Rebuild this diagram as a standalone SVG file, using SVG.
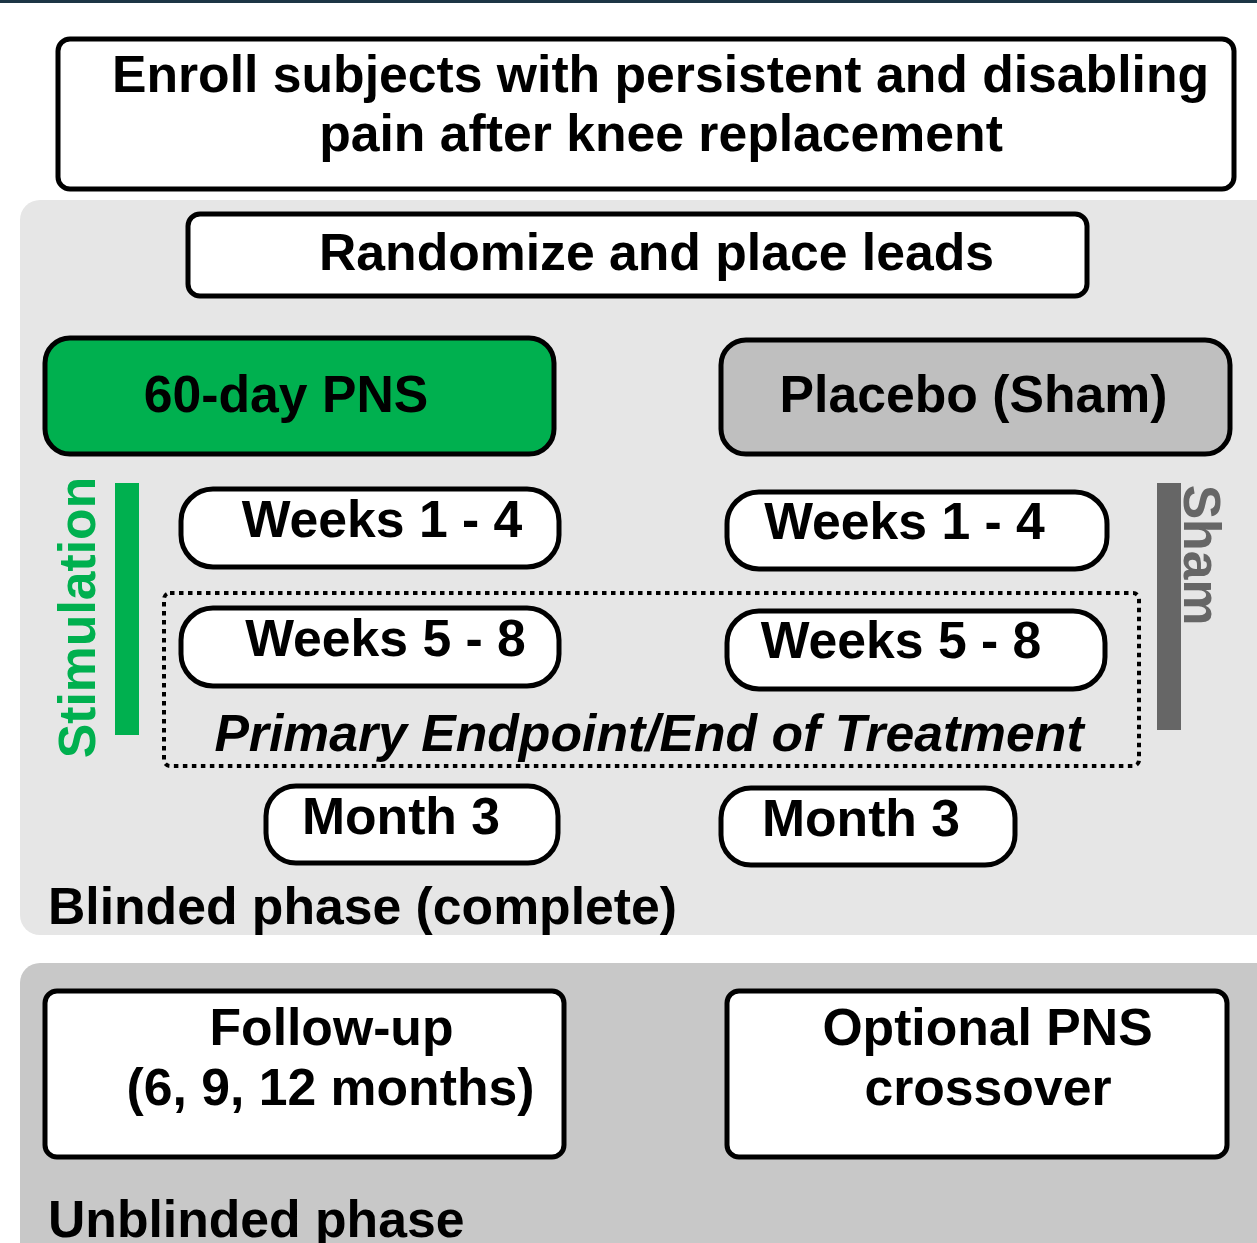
<svg xmlns="http://www.w3.org/2000/svg" width="1257" height="1243" viewBox="0 0 1257 1243">
<style>
.t{font-family:"Liberation Sans",Arial,sans-serif;font-weight:bold;fill:#000;text-anchor:middle;font-size:51.7px}
.box{fill:#fff;stroke:#000;stroke-width:5}
.pill{fill:#fff;stroke:#000;stroke-width:5}
</style>
<rect x="0" y="0" width="1257" height="1243" fill="#fff"/>
<rect x="0" y="0" width="1257" height="3" fill="#1c3545"/>
<g id="blinded-panel">
<rect x="20" y="200" width="1260" height="735" rx="20" fill="#e6e6e6"/>
<text class="t" x="48" y="924" style="text-anchor:start">Blinded phase (complete)</text>
</g>
<g id="unblinded-panel">
<rect x="20" y="963" width="1260" height="300" rx="20" fill="#c8c8c8"/>
<text class="t" x="48" y="1237" style="text-anchor:start">Unblinded phase</text>
</g>
<g id="enroll">
<rect class="box" x="58" y="39" width="1176" height="150" rx="12"/>
<text class="t" x="660.5" y="92">Enroll subjects with persistent and disabling</text>
<text class="t" x="661" y="151">pain after knee replacement</text>
</g>
<g id="randomize">
<rect class="box" x="188" y="214" width="899" height="82" rx="12"/>
<text class="t" x="656.5" y="270">Randomize and place leads</text>
</g>
<g id="pns">
<rect x="45" y="338" width="509" height="116" rx="25" fill="#00b04f" stroke="#000" stroke-width="5"/>
<text class="t" x="286" y="412">60-day PNS</text>
</g>
<g id="placebo">
<rect x="721" y="340" width="509" height="114" rx="25" fill="#bfbfbf" stroke="#000" stroke-width="5"/>
<text class="t" x="973.5" y="412">Placebo (Sham)</text>
</g>
<g id="stimulation">
<rect x="115" y="483" width="24" height="252" fill="#00b04f"/>
<text class="t" transform="translate(95,617.5) rotate(-90)" style="fill:#00b04f">Stimulation</text>
</g>
<g id="sham">
<rect x="1157" y="483" width="24" height="247" fill="#666"/>
<text class="t" transform="translate(1184,555) rotate(90)" style="fill:#666">Sham</text>
</g>
<g id="endpoint">
<rect x="164" y="593" width="975" height="173" rx="6" fill="none" stroke="#000" stroke-width="4" stroke-dasharray="4.5 4.5"/>
<text class="t" x="649" y="751" font-style="italic">Primary Endpoint/End of Treatment</text>
</g>
<g id="pns-w14">
<rect class="pill" x="181" y="489" width="378" height="78" rx="32"/>
<text class="t" x="382" y="537">Weeks 1 - 4</text>
</g>
<g id="sham-w14">
<rect class="pill" x="727" y="492" width="380" height="77" rx="32"/>
<text class="t" x="904.5" y="539">Weeks 1 - 4</text>
</g>
<g id="pns-w58">
<rect class="pill" x="181" y="608" width="378" height="78" rx="32"/>
<text class="t" x="385.5" y="656">Weeks 5 - 8</text>
</g>
<g id="sham-w58">
<rect class="pill" x="727" y="611" width="378" height="78" rx="32"/>
<text class="t" x="901" y="658">Weeks 5 - 8</text>
</g>
<g id="pns-m3">
<rect class="pill" x="266" y="786" width="292" height="77" rx="30"/>
<text class="t" x="401" y="834">Month 3</text>
</g>
<g id="sham-m3">
<rect class="pill" x="721" y="788" width="294" height="77" rx="30"/>
<text class="t" x="861" y="836">Month 3</text>
</g>
<g id="followup">
<rect class="box" x="45" y="991" width="519" height="166" rx="12"/>
<text class="t" x="331.5" y="1045">Follow-up</text>
<text class="t" x="330.5" y="1105">(6, 9, 12 months)</text>
</g>
<g id="crossover">
<rect class="box" x="727" y="991" width="500" height="166" rx="12"/>
<text class="t" x="987.5" y="1045">Optional PNS</text>
<text class="t" x="988" y="1105">crossover</text>
</g>
<g id="connectors"></g>
</svg>
